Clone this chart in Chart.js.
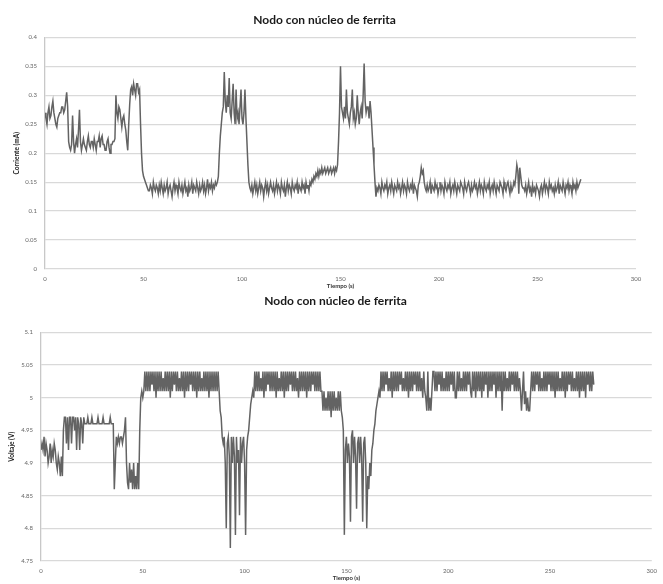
<!DOCTYPE html>
<html>
<head>
<meta charset="utf-8">
<script src="https://cdn.jsdelivr.net/npm/chart.js@4/dist/chart.umd.min.js"></script>
<style>
  body { margin: 0; background: #fff; }
  canvas { display: block; }
</style>
</head>
<body>
<canvas id="chart-corriente" width="663" height="292"></canvas>
<canvas id="chart-voltaje" width="663" height="292"></canvas>
<script>
const TITULO = "Nodo con núcleo de ferrita"
const EJE_X = "Tiempo (s)"
const EJE_CORRIENTE = "Corriente (mA)"
const EJE_VOLTAJE = "Voltaje (V)"
const PASO = 0.5 // s between readings, first one at t = 0

const corriente = [
  0.27,0.26,0.25,0.27,0.28,0.26,0.265,0.28,0.29,0.27,0.26,0.25,0.245,0.26,0.265,0.27,0.27,0.28,0.28,0.27,0.275,0.29,0.305,0.28,0.22,0.21,
  0.205,0.215,0.265,0.22,0.2,0.215,0.225,0.21,0.24,0.275,0.22,0.205,0.215,0.225,
  0.215,0.21,0.205,0.22,0.23,0.215,0.21,0.22,0.22,0.21,0.225,0.215,0.205,0.22,0.22,0.23,
  0.21,0.225,0.23,0.215,0.215,0.205,0.205,0.22,0.225,0.21,0.2,0.215,0.215,0.22,0.22,0.225,
  0.3,0.27,0.26,0.28,0.275,0.26,0.245,0.26,0.265,0.25,0.24,0.22,0.205,0.25,0.285,0.31,0.315,
  0.3,0.32,0.31,0.3,0.32,0.32,0.305,0.31,0.25,0.2,0.17,0.16,0.155,0.15,0.145,0.14,0.135,
  0.135,0.145,0.14,0.13,0.15,0.14,0.135,0.145,0.14,0.13,
  0.145,0.135,0.15,0.14,0.13,0.145,0.135,0.14,0.15,0.13,
  0.14,0.145,0.135,0.125,0.14,0.15,0.135,0.145,0.14,0.13,
  0.15,0.14,0.135,0.145,0.13,0.14,0.15,0.135,0.14,0.125,
  0.145,0.135,0.14,0.15,0.13,0.145,0.14,0.135,0.15,0.14,
  0.13,0.145,0.135,0.14,0.15,0.135,0.145,0.13,0.14,0.155,
  0.135,0.145,0.14,0.15,0.135,0.145,0.14,0.15,0.145,0.15,
  0.16,0.2,0.23,0.25,0.27,0.28,0.34,0.29,0.27,0.3,0.28,0.33,0.27,0.26,0.29,0.32,0.27,0.25,
  0.31,0.26,0.27,0.25,0.28,0.31,0.26,0.25,0.27,0.31,0.26,0.22,0.18,0.15,0.14,0.135,0.145,0.13,
  0.14,0.15,0.135,0.145,0.13,0.14,0.15,0.135,0.145,0.14,
  0.125,0.14,0.15,0.135,0.145,0.13,0.14,0.15,0.14,0.135,
  0.145,0.13,0.14,0.15,0.135,0.145,0.14,0.13,0.15,0.14,
  0.135,0.145,0.125,0.14,0.15,0.135,0.145,0.14,0.13,0.15,
  0.14,0.135,0.145,0.14,0.15,0.13,0.145,0.14,0.135,0.15,
  0.14,0.145,0.13,0.15,0.14,0.145,0.135,0.15,0.145,0.155,
  0.15,0.16,0.155,0.165,0.16,0.17,0.16,0.17,0.165,0.175,0.165,0.17,0.175,
  0.165,0.17,0.175,0.165,0.17,0.175,0.165,0.17,0.175,0.165,0.175,0.17,0.18,
  0.22,0.27,0.35,0.28,0.27,0.26,0.28,0.26,0.31,0.27,0.26,0.25,0.27,0.28,0.31,0.26,0.27,0.25,0.26,0.3,
  0.27,0.25,0.27,0.28,0.26,0.3,0.355,0.29,0.27,0.28,0.28,0.26,0.29,0.27,0.24,0.21,0.18,0.15,0.125,0.14,
  0.135,0.145,0.14,0.13,0.15,0.14,0.135,0.145,0.14,0.15,
  0.13,0.14,0.145,0.135,0.15,0.14,0.13,0.145,0.14,0.135,
  0.15,0.14,0.145,0.13,0.14,0.15,0.135,0.145,0.14,0.13,
  0.15,0.14,0.135,0.145,0.14,0.15,0.13,0.145,0.14,0.135,
  0.125,0.145,
  0.15,0.16,0.175,0.165,0.17,0.15,0.14,0.135,
  0.145,0.135,0.14,0.15,0.13,0.145,0.14,0.135,0.15,0.14,
  0.145,0.13,0.14,0.15,0.135,0.145,0.14,0.13,0.15,0.14,
  0.135,0.145,0.14,0.15,0.13,0.14,0.145,0.135,0.15,0.14,
  0.13,0.145,0.14,0.135,0.15,0.145,0.14,0.13,0.15,0.14,
  0.135,0.145,0.15,0.14,0.13,0.145,0.135,0.14,0.15,0.14,
  0.145,0.13,0.14,0.15,0.135,0.145,0.14,0.13,0.15,0.14,
  0.135,0.145,0.14,0.15,0.13,0.14,0.145,0.135,0.15,0.14,
  0.13,0.145,0.14,0.135,0.15,0.145,0.14,0.13,0.15,0.14,
  0.135,0.145,0.15,0.14,0.13,0.145,0.135,0.14,0.15,0.145,
  0.16,0.18,0.17,0.13,0.175,0.16,0.145,0.14,
  0.14,0.135,0.145,0.13,0.14,0.15,0.135,0.14,0.125,0.145,
  0.135,0.14,0.13,0.145,0.14,0.135,0.125,0.14,0.145,0.13,
  0.14,0.15,0.135,0.145,0.14,0.13,0.15,0.14,0.145,0.135,
  0.14,0.13,0.145,0.135,0.14,0.15,0.13,0.145,0.14,0.135,
  0.15,0.14,0.13,0.145,0.14,0.15,0.135,0.145,0.14,0.13,
  0.15,0.14,0.145,0.135,0.15,0.14,0.145,0.15,0.155
]

const voltaje = [
  4.92,4.93,4.92,4.94,4.91,4.93,4.92,4.9,4.91,4.93,4.9,4.92,4.91,4.93,4.92,4.9,4.89,4.91,4.9,4.88,4.91,4.88,
  4.95,4.97,4.97,4.93,4.97,4.92,4.97,4.97,4.93,4.97,4.97,4.95,4.97,4.92,4.97,4.96,4.92,4.97,4.96,4.93,4.97,4.96,
  4.96,4.96,4.97,4.96,4.96,4.96,4.97,4.96,4.96,4.96,4.96,4.96,4.97,4.96,
  4.96,4.96,4.96,4.97,4.96,4.96,4.96,4.96,4.96,4.96,4.97,4.96,4.96,4.96,
  4.86,4.9,4.94,4.93,4.94,4.93,4.94,4.94,4.93,4.94,4.95,4.97,4.9,4.87,4.86,
  4.9,4.87,4.89,4.86,4.9,4.86,4.88,4.86,4.9,4.86,4.95,5.0,5.01,5.0,5.01,
  5.04,5.01,5.04,5.01,5.04,5.01,5.04,5.02,5.04,5.01,
  5.04,5.0,5.04,5.01,5.04,5.01,5.04,5.01,5.03,5.01,
  5.04,5.01,5.04,5.01,5.04,5.0,5.04,5.01,5.04,5.02,
  5.04,5.01,5.04,5.01,5.03,5.01,5.04,5.01,5.04,5.0,
  5.04,5.01,5.04,5.01,5.04,5.02,5.04,5.01,5.04,5.01,
  5.04,5.0,5.04,5.01,5.04,5.01,5.03,5.01,5.04,5.01,
  5.04,5.01,5.04,5.0,5.04,5.01,5.04,5.01,5.04,5.01,
  5.04,5.01,5.04,5.01,
  4.98,4.97,4.94,4.93,4.94,4.9,4.8,4.93,4.94,4.91,4.77,4.94,4.9,4.94,4.91,4.79,4.94,
  4.9,4.92,4.82,4.94,4.9,4.93,4.94,4.9,4.79,4.92,4.94,4.95,4.97,4.99,5.0,5.01,5.0,
  5.04,5.01,5.04,5.01,5.04,5.01,5.03,5.01,5.04,5.0,
  5.04,5.01,5.04,5.02,5.04,5.01,5.04,5.01,5.04,5.01,
  5.04,5.0,5.04,5.01,5.03,5.01,5.04,5.01,5.04,5.0,
  5.04,5.01,5.04,5.01,5.04,5.02,5.04,5.01,5.04,5.01,
  5.04,5.01,5.03,5.0,5.04,5.01,5.04,5.01,5.04,5.01,
  5.04,5.0,5.04,5.01,5.04,5.01,5.04,5.02,5.04,5.01,
  5.04,5.01,5.04,5.01,5.04,5.01,
  5.01,4.98,5.01,4.98,5.0,4.98,5.01,4.98,5.01,4.97,
  5.01,4.98,5.01,4.98,5.0,4.98,5.01,4.98,5.01,4.98,
  4.97,4.95,
  4.79,4.92,4.94,4.9,4.93,4.91,4.81,4.94,4.95,4.9,4.94,4.91,4.83,4.93,4.94,4.9,4.94,4.91,
  4.81,4.93,4.94,4.9,4.8,4.88,4.86,4.9,4.88,4.92,4.93,4.95,4.96,4.98,4.99,5.0,5.01,5.0,
  5.04,5.01,5.04,5.01,5.04,5.02,5.04,5.01,5.03,5.01,
  5.04,5.0,5.04,5.01,5.04,5.01,5.04,5.01,5.04,5.02,
  5.04,5.01,5.03,5.01,5.04,5.01,5.04,5.0,5.04,5.01,
  5.04,5.01,5.04,5.02,5.04,5.01,5.04,5.01,5.04,5.01,
  5.03,5.0,5.04,5.01,
  5.0,4.98,5.04,4.98,5.0,4.98,5.01,5.04,
  5.04,5.01,5.04,5.01,5.04,5.02,5.04,5.01,5.04,5.01,
  5.03,5.01,5.04,5.01,5.04,5.01,5.04,5.02,5.04,5.01,
  5.04,5.0,5.0,5.04,5.01,5.04,5.01,5.03,5.01,5.04,
  5.01,5.04,5.01,5.04,5.02,5.04,5.01,5.0,5.04,5.01,
  5.04,5.0,5.04,5.01,5.04,5.01,5.04,5.0,5.04,5.01,
  5.04,5.02,5.04,5.0,5.04,5.01,5.04,5.01,5.04,5.02,
  5.04,5.0,5.04,5.01,5.04,5.01,5.04,4.98,5.04,5.01,
  5.04,5.01,5.03,5.01,5.04,5.01,5.04,5.02,5.04,5.01,
  5.04,5.01,5.04,5.01,5.03,5.01,4.98,5.01,
  5.04,4.99,5.01,4.98,5.0,4.98,4.98,5.01,
  5.04,5.01,5.04,5.01,5.04,5.02,5.04,5.01,5.04,5.01,
  5.03,5.01,5.04,5.01,5.04,5.01,5.04,5.02,5.04,5.01,
  5.04,5.01,5.04,5.0,5.04,5.01,5.04,5.01,5.03,5.01,
  5.04,5.01,5.04,5.0,5.04,5.01,5.04,5.02,5.04,5.01,
  5.04,5.01,5.03,5.01,5.04,5.01,5.04,5.0,5.04,5.01,
  5.04,5.01,5.04,5.0,5.04,5.02,5.04,5.01,5.04,5.01,
  5.04,5.02
]

const LINE = "#636363"
const GRID = "#d9d9d9"
const TICK = "#666"
const FONT = "Lato, 'Open Sans', sans-serif"

function toPoints(values) {
  return values.map((v, i) => ({x: i * PASO, y: v}))
}

function fmt(v) {
  return String(+v.toFixed(2))
}

function createChart(htmlId, values, yTitle, yMin, yMax, opts) {
  return new Chart(htmlId, {
    type: "line",
    data: {
      datasets: [{
        data: toPoints(values),
        borderColor: LINE,
        borderWidth: 1.5,
        pointRadius: 0,
        tension: 0,
        fill: false
      }]
    },
    options: {
      responsive: false,
      animation: false,
      layout: {padding: opts.padding},
      plugins: {
        legend: {display: false},
        tooltip: {enabled: false},
        title: {
          display: true,
          text: TITULO,
          color: "#1a1a1a",
          font: {family: FONT, size: 12, weight: "bold"},
          padding: opts.titlePadding
        }
      },
      scales: {
        x: {
          type: "linear",
          min: 0,
          max: 300,
          ticks: {stepSize: 50, color: TICK, font: {family: FONT, size: 6}, padding: 6, maxRotation: 0},
          grid: {drawOnChartArea: false, drawTicks: false},
          border: {display: false},
          title: {display: true, text: EJE_X, color: "#333", font: {family: FONT, size: 6, weight: "bold"}, padding: {top: 0, bottom: 2}},
          afterFit: s => { s.height = 23 }
        },
        y: {
          min: yMin,
          max: yMax,
          ticks: {stepSize: 0.05, color: TICK, font: {family: FONT, size: 6}, padding: 8, callback: v => fmt(v)},
          grid: {color: GRID, lineWidth: 1.3, drawTicks: false},
          border: {display: true, color: "#c8c8c8", width: 1.3},
          title: {display: true, text: yTitle, color: "#222", font: {family: FONT, size: 6.5, weight: "bold"}, padding: {top: 0, bottom: 0}},
          afterFit: s => { s.width = opts.yWidth }
        }
      }
    }
  })
}

createChart("chart-corriente", corriente, EJE_CORRIENTE, 0, 0.4, {
  padding: {top: 0, right: 27, left: 13, bottom: 0},
  titlePadding: {top: 13, bottom: 10},
  yWidth: 32
})

createChart("chart-voltaje", voltaje, EJE_VOLTAJE, 4.75, 5.1, {
  padding: {top: 0, right: 0, left: 8, bottom: 0},
  titlePadding: {top: 2, bottom: 24},
  yWidth: 33
})
</script>
</body>
</html>
